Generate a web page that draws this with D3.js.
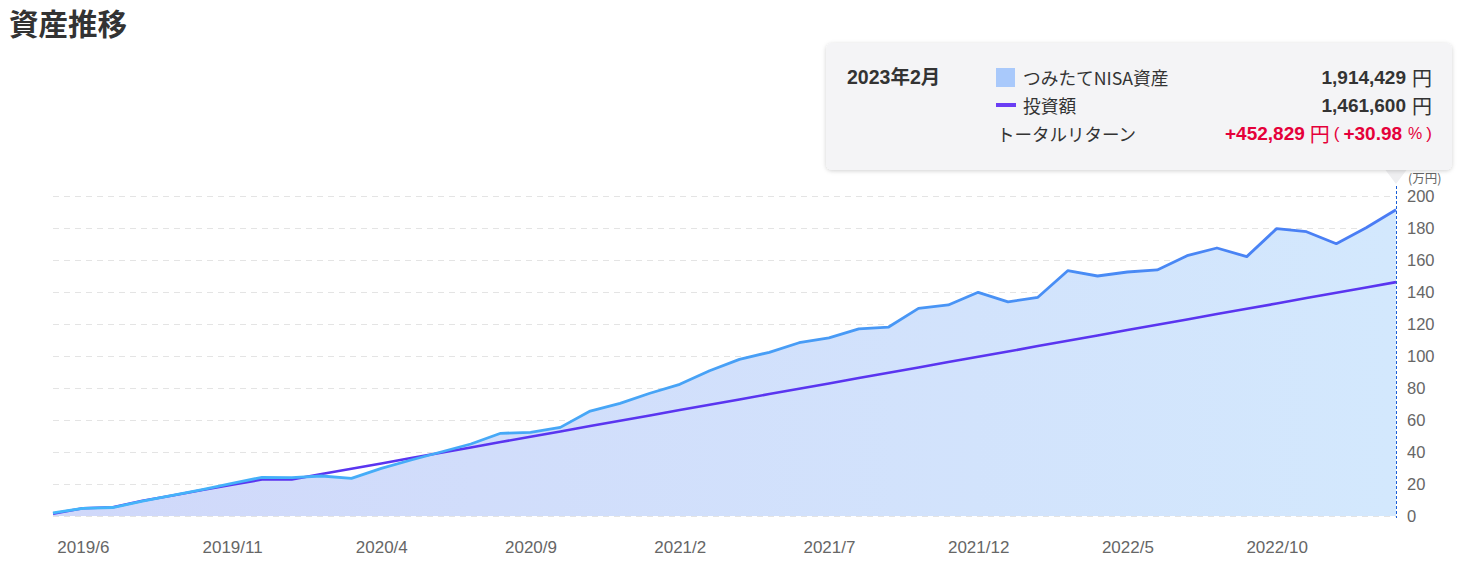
<!DOCTYPE html>
<html>
<head>
<meta charset="utf-8">
<script src="https://cdn.jsdelivr.net/npm/d3@7"></script>
<style>
  html, body { margin: 0; padding: 0; background: #ffffff; }
  svg { display: block; }
  text { font-family: "Liberation Sans", Arial, "Noto Sans CJK JP", sans-serif; }
  .jp { font-family: "Noto Sans CJK JP", "Liberation Sans", sans-serif; }
</style>
</head>
<body>
<svg id="chart" width="1460" height="582"></svg>
<script>
// ---- data ----
const months = [
  "2019/5","2019/6","2019/7","2019/8","2019/9","2019/10","2019/11","2019/12",
  "2020/1","2020/2","2020/3","2020/4","2020/5","2020/6","2020/7","2020/8","2020/9","2020/10","2020/11","2020/12",
  "2021/1","2021/2","2021/3","2021/4","2021/5","2021/6","2021/7","2021/8","2021/9","2021/10","2021/11","2021/12",
  "2022/1","2022/2","2022/3","2022/4","2022/5","2022/6","2022/7","2022/8","2022/9","2022/10","2022/11","2022/12",
  "2023/1","2023/2"
];
// つみたてNISA資産 (万円)
const assetValues = [
  2.0, 4.8, 5.3, 9.3, 12.9, 16.5, 20.4, 24.2,
  24.0, 25.0, 23.5, 29.8, 35.0, 40.0, 45.0, 51.7, 52.3, 55.4, 65.6, 70.4,
  76.7, 82.3, 90.8, 97.9, 102.3, 108.3, 111.3, 116.9, 118.1, 129.8, 131.9, 139.8,
  133.8, 136.7, 153.3, 150.0, 152.5, 153.8, 162.7, 167.5, 162.1, 179.6, 177.7, 170.2,
  180.2, 191.44
];
// 投資額 (万円)
const investValues = [
  1.5, 4.8, 5.5, 9.5, 12.8, 16.2, 19.5, 22.8,
  22.8, 26.2, 29.5, 32.8, 36.2, 39.5, 42.8, 46.2, 49.5, 52.8, 56.2, 59.5,
  62.8, 66.2, 69.5, 72.8, 76.2, 79.5, 82.8, 86.2, 89.5, 92.8, 96.2, 99.5,
  102.8, 106.2, 109.5, 112.8, 116.2, 119.5, 122.8, 126.2, 129.5, 132.8, 136.2, 139.5,
  142.8, 146.16
];
const xTickLabels = ["2019/6","2019/11","2020/4","2020/9","2021/2","2021/7","2021/12","2022/5","2022/10"];
const yTickValues = [0,20,40,60,80,100,120,140,160,180,200];

const titleText = "資産推移";
const tipDate = "2023年2月";
const tipAssetLabel = "つみたてNISA資産";
const tipAssetValue = "1,914,429";
const tipInvestLabel = "投資額";
const tipInvestValue = "1,461,600";
const tipReturnLabel = "トータルリターン";
const tipReturnValue = "+452,829";
const tipReturnPct = "+30.98";
const unitLabel = "(万円)";

// ---- chart ----
const svg = d3.select("#chart");
const x = d3.scalePoint().domain(months).range([53, 1396]);
const y = d3.scaleLinear().domain([0, 200]).range([516, 196]);

const defs = svg.append("defs");
const gArea = defs.append("linearGradient").attr("id", "areaGrad")
  .attr("gradientUnits", "userSpaceOnUse").attr("x1", 53).attr("x2", 1396).attr("y1", 0).attr("y2", 0);
gArea.append("stop").attr("offset", "0%").attr("stop-color", "#d0d8fa");
gArea.append("stop").attr("offset", "100%").attr("stop-color", "#d3e8fd");
const gLine = defs.append("linearGradient").attr("id", "lineGrad")
  .attr("gradientUnits", "userSpaceOnUse").attr("x1", 53).attr("x2", 1396).attr("y1", 0).attr("y2", 0);
gLine.append("stop").attr("offset", "0%").attr("stop-color", "#44b6fa");
gLine.append("stop").attr("offset", "45%").attr("stop-color", "#47a4f6");
gLine.append("stop").attr("offset", "100%").attr("stop-color", "#4a7bf4");
const flt = defs.append("filter").attr("id", "shadow").attr("x", "-10%").attr("y", "-20%").attr("width", "120%").attr("height", "150%");
flt.append("feDropShadow").attr("dx", 0).attr("dy", 1).attr("stdDeviation", 2).attr("flood-color", "#000").attr("flood-opacity", 0.18);

// title
svg.append("text").attr("class", "jp").attr("x", 9).attr("y", 22)
  .attr("dominant-baseline", "central")
  .style("font-size", "29.5px").style("font-weight", 700).attr("fill", "#333")
  .text(titleText);

// grid
const grid = svg.append("g");
grid.selectAll("line").data(yTickValues).join("line")
  .attr("x1", 53).attr("x2", 1396)
  .attr("y1", d => y(d) + 0.5).attr("y2", d => y(d) + 0.5)
  .attr("stroke", "#e4e4e4").attr("stroke-width", 1).attr("stroke-dasharray", "6,5");

// area
const area = d3.area().x(d => x(d.m)).y0(y(0)).y1(d => y(d.v));
const assetData = months.map((m, i) => ({ m, v: assetValues[i] }));
const investData = months.map((m, i) => ({ m, v: investValues[i] }));
svg.append("path").datum(assetData).attr("d", area).attr("fill", "url(#areaGrad)");

// lines
const line = d3.line().x(d => x(d.m)).y(d => y(d.v));
svg.append("path").datum(investData).attr("d", line)
  .attr("fill", "none").attr("stroke", "#5a35f0").attr("stroke-width", 2.6).attr("stroke-linejoin", "round");
svg.append("path").datum(assetData).attr("d", line)
  .attr("fill", "none").attr("stroke", "url(#lineGrad)").attr("stroke-width", 2.8).attr("stroke-linejoin", "round");

// vertical cursor line
svg.append("line").attr("x1", x("2023/2") + 0.5).attr("x2", x("2023/2") + 0.5)
  .attr("y1", 186).attr("y2", 518)
  .attr("stroke", "#1b5fd6").attr("stroke-width", 1).attr("stroke-dasharray", "3,2");

// y axis (right)
const yAxis = d3.axisRight(y).tickValues(yTickValues).tickSize(0).tickPadding(0);
const gy = svg.append("g").attr("transform", "translate(1407,0)").call(yAxis);
gy.select(".domain").remove();
gy.selectAll("text").style("font-size", "16.5px").attr("fill", "#666")
  .attr("font-family", "Liberation Sans, Arial, sans-serif").attr("dy", "0.35em");

// x axis
const xAxis = d3.axisBottom(x).tickValues(xTickLabels).tickSize(0).tickPadding(0);
const gx = svg.append("g").attr("transform", "translate(0,541)").call(xAxis);
gx.select(".domain").remove();
gx.selectAll("text").style("font-size", "17px").attr("fill", "#666")
  .attr("font-family", "Liberation Sans, Arial, sans-serif").attr("dy", "0.35em").attr("y", 6);

// unit label
svg.append("text").attr("class", "jp").attr("x", 1408).attr("y", 177)
  .attr("dominant-baseline", "central").style("font-size", "12.5px").attr("fill", "#666")
  .text(unitLabel);

// tooltip
const tip = svg.append("g");
const ax = x("2023/2");
tip.append("path")
  .attr("d", `M${ax - 12},168 L${ax},184 L${ax + 12},168 Z`)
  .attr("fill", "#efeff1");
tip.append("rect").attr("x", 826).attr("y", 43).attr("width", 626).attr("height", 127)
  .attr("rx", 6).attr("fill", "#f4f4f6").attr("filter", "url(#shadow)");

tip.append("text").attr("x", 847).attr("y", 77).attr("dominant-baseline", "central")
  .style("font-size", "19.5px").style("font-weight", 700).attr("fill", "#333")
  .text(tipDate);

tip.append("rect").attr("x", 996).attr("y", 68).attr("width", 19).attr("height", 19).attr("fill", "#a9c9fb");
tip.append("rect").attr("x", 996).attr("y", 103).attr("width", 20).attr("height", 4).attr("fill", "#6a3df4");

const lbl = (t, xx, yy, size) => tip.append("text").attr("class", "jp")
  .attr("x", xx).attr("y", yy).attr("dominant-baseline", "central")
  .style("font-size", size).attr("fill", "#333").text(t);
lbl(tipAssetLabel, 1023, 77, "17.7px");
lbl(tipInvestLabel, 1023, 105, "17.7px");
lbl(tipReturnLabel, 997, 133, "17.5px");

function valueRow(val, yy) {
  const t = tip.append("text").attr("x", 1432).attr("y", yy).attr("text-anchor", "end")
    .attr("dominant-baseline", "central").attr("fill", "#333");
  t.append("tspan").style("font-size", "19px").style("font-weight", 700).text(val);
  t.append("tspan").attr("class", "jp").attr("dx", 6).style("font-size", "20px").text("円");
}
valueRow(tipAssetValue, 77);
valueRow(tipInvestValue, 105);

const rt = tip.append("text").attr("x", 1432).attr("y", 133).attr("text-anchor", "end")
  .attr("dominant-baseline", "central").attr("fill", "#e5003a");
rt.append("tspan").style("font-size", "19px").style("font-weight", 700).text(tipReturnValue);
rt.append("tspan").attr("class", "jp").attr("dx", 5).style("font-size", "20px").text("円");
rt.append("tspan").attr("dx", 4).style("font-size", "17px").text("(");
rt.append("tspan").attr("dx", 4).style("font-size", "19px").style("font-weight", 700).text(tipReturnPct);
rt.append("tspan").attr("dx", 6).style("font-size", "16px").text("%");
rt.append("tspan").attr("dx", 4).style("font-size", "17px").text(")");
</script>
</body>
</html>
